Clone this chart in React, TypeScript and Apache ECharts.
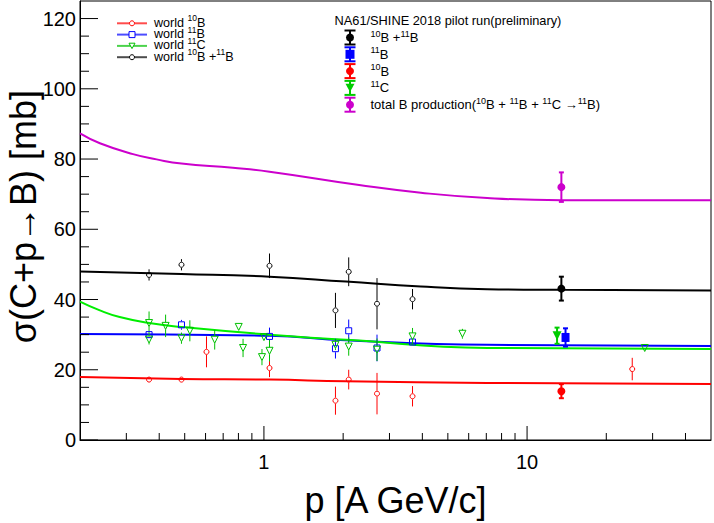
import React, { useEffect, useRef } from 'react';
import * as echarts from 'echarts';

const FONT = '"Liberation Sans", Arial, Helvetica, sans-serif';

// Fitted curves [p (A GeV/c), sigma (mb)]
const curveTotal = [[0.2, 87.3], [0.238, 84.5], [0.318, 81.4], [0.391, 79.9], [0.486, 78.7], [0.762, 77.5], [1.05, 76.4], [2.3, 72.6], [3.95, 70.4], [7.05, 68.9], [13.5, 68.3], [50, 68.3]];
const curveSum = [[0.2, 48.0], [0.486, 47.3], [1.05, 46.5], [2.05, 45.1], [3.95, 43.7], [7.05, 42.95], [13.5, 42.75], [50, 42.6]];
const curve11B = [[0.2, 30.2], [1.05, 29.7], [2.05, 28.4], [7.05, 27.1], [50, 26.8]];
const curve10B = [[0.2, 17.95], [0.486, 17.4], [1.05, 17.2], [2.05, 16.7], [7.05, 16.25], [50, 15.97]];
const curve11C = [[0.2, 39.4], [0.238, 36.9], [0.283, 35.0], [0.366, 33.3], [0.486, 32.2], [1.05, 30.0], [2.05, 28.55], [7.05, 26.2], [50, 25.9]];

// World data [p, sigma, error]
const world10B = [[0.366, 17.2, 0.5], [0.486, 17.2, 0.5], [0.605, 25.1, 4.4], [1.05, 20.5, 2.6], [1.87, 11.2, 4.0], [2.10, 17.2, 2.8], [2.69, 13.2, 5.9], [3.67, 12.45, 2.9], [25.1, 20.2, 3.2]];
const world11B = [[0.366, 30.0, 0.6], [0.486, 32.8, 1.4], [1.05, 29.5, 2.5], [1.87, 26.0, 2.8], [2.10, 31.1, 3.2], [2.69, 26.2, 3.8], [3.67, 27.9, 0.8]];
const world11C = [[0.366, 33.3, 3.3], [0.366, 28.6, 1.4], [0.423, 32.5, 3.2], [0.486, 29.0, 1.6], [0.523, 31.1, 3.0], [0.650, 28.55, 2.8], [0.802, 32.2, 0.8], [0.833, 26.2, 2.6], [0.983, 23.6, 2.3], [1.0, 29.3, 0.8], [1.05, 25.4, 3.0], [1.87, 27.1, 1.5], [2.10, 26.6, 2.6], [2.69, 25.7, 3.2], [3.67, 29.5, 2.4], [5.68, 30.25, 1.4], [28.0, 26.2, 0.6]];
const world10B11B = [[0.366, 47.0, 1.6], [0.486, 49.9, 1.6], [1.05, 49.6, 3.5], [1.87, 36.9, 5.0], [2.10, 47.9, 4.1], [2.69, 38.8, 7.3], [3.67, 40.1, 2.9]];

// NA61/SHINE 2018 pilot run [p, sigma, error]
const na61Sum = [[13.5, 43.1, 3.4]];
const na6111B = [[14.0, 29.2, 2.6]];
const na6110B = [[13.5, 13.9, 2.0]];
const na6111C = [[13.0, 29.7, 2.3]];
const na61Total = [[13.5, 72.0, 4.2]];

// Axis ticks
const X_MIN = 0.2;
const X_MAX = 50;
const Y_MIN = 0;
const Y_MAX = 125;
const xMajorTicks = [1, 10];
const xMinorTicks = [0.3, 0.4, 0.5, 0.6, 0.7, 0.8, 0.9, 2, 3, 4, 5, 6, 7, 8, 9, 20, 30, 40];
const yMajorTicks = [0, 20, 40, 60, 80, 100, 120];
const yMinorTicks = [5, 10, 15, 25, 30, 35, 45, 50, 55, 65, 70, 75, 85, 90, 95, 105, 110, 115];

const leftLegend = [
  { text: '{n|world }{s|10}{n|B}', color: '#ff0000', symbol: 'circle' },
  { text: '{n|world }{s|11}{n|B}', color: '#0000ff', symbol: 'square' },
  { text: '{n|world }{s|11}{n|C}', color: '#00c000', symbol: 'tri' },
  { text: '{n|world }{s|10}{n|B +}{s|11}{n|B}', color: '#000000', symbol: 'circle' },
];
const rightTitle = 'NA61/SHINE 2018 pilot run(preliminary)';
const rightLegend = [
  { text: '{s|10}{n|B +}{s|11}{n|B}', color: '#000000', symbol: 'circle' },
  { text: '{s|11}{n|B}', color: '#0000ff', symbol: 'square' },
  { text: '{s|10}{n|B}', color: '#ff0000', symbol: 'circle' },
  { text: '{s|11}{n|C}', color: '#00cc00', symbol: 'tri' },
  { text: '{n|total B production(}{s|10}{n|B + }{s|11}{n|B + }{s|11}{n|C →}{s|11}{n|B)}', color: '#cc00cc', symbol: 'circle' },
];

function errRender(color: string, lw: number, gap: number, cap: number) {
  return (params: any, api: any) => {
    const x = api.value(0);
    const y = api.value(1);
    const e = api.value(2);
    const c = api.coord([x, y]);
    const t = api.coord([x, y + e]);
    const b = api.coord([x, y - e]);
    const children: any[] = [];
    const st = { stroke: color, lineWidth: lw };
    if (c[1] - t[1] > gap) children.push({ type: 'line', shape: { x1: c[0], y1: t[1], x2: c[0], y2: c[1] - gap }, style: st });
    if (b[1] - c[1] > gap) children.push({ type: 'line', shape: { x1: c[0], y1: c[1] + gap, x2: c[0], y2: b[1] }, style: st });
    if (cap > 0) {
      children.push({ type: 'line', shape: { x1: c[0] - cap / 2, y1: t[1], x2: c[0] + cap / 2, y2: t[1] }, style: st });
      children.push({ type: 'line', shape: { x1: c[0] - cap / 2, y1: b[1], x2: c[0] + cap / 2, y2: b[1] }, style: st });
    }
    return { type: 'group', children };
  };
}

function tickSeries(data: number[][], dx: number, dy: number) {
  return {
    type: 'custom',
    coordinateSystem: 'cartesian2d',
    silent: true,
    z: 6,
    data,
    renderItem: (params: any, api: any) => {
      const p = api.coord([api.value(0), api.value(1)]);
      return { type: 'line', shape: { x1: p[0], y1: p[1], x2: p[0] + dx, y2: p[1] + dy }, style: { stroke: '#000', lineWidth: 1 } };
    },
  };
}

function lineSeries(data: number[][], color: string) {
  return {
    type: 'line',
    data,
    smooth: 0.5,
    showSymbol: false,
    symbol: 'none',
    lineStyle: { color, width: 2 },
    z: 2,
    silent: true,
  };
}

function errSeries(data: number[][], color: string, lw: number, gap: number, cap: number) {
  return {
    type: 'custom',
    coordinateSystem: 'cartesian2d',
    data,
    silent: true,
    z: 3,
    renderItem: errRender(color, lw, gap, cap),
  };
}

function markerSeries(data: number[][], color: string, symbol: string, size: any, filled: boolean, rotate = 0) {
  return {
    type: 'scatter',
    data: data.map((d) => [d[0], d[1]]),
    symbol,
    symbolSize: size,
    symbolRotate: rotate,
    silent: true,
    z: 4,
    itemStyle: filled
      ? { color, borderWidth: 0, opacity: 1 }
      : { color: 'rgba(255,255,255,0)', borderColor: color, borderWidth: 1, opacity: 1 },
  };
}

function legendMarker(kind: string, cx: number, cy: number, color: string, filled: boolean, size: number) {
  if (kind === 'circle') {
    return { type: 'circle', shape: { cx, cy, r: size / 2 }, style: filled ? { fill: color } : { fill: '#fff', stroke: color, lineWidth: 1 } };
  }
  if (kind === 'square') {
    return { type: 'rect', shape: { x: cx - size / 2, y: cy - size / 2, width: size, height: size }, style: filled ? { fill: color } : { fill: '#fff', stroke: color, lineWidth: 1 } };
  }
  const h = size * 0.9;
  return {
    type: 'polygon',
    shape: { points: [[cx - size / 2, cy - h / 2], [cx + size / 2, cy - h / 2], [cx, cy + h / 2]] },
    style: filled ? { fill: color } : { fill: '#fff', stroke: color, lineWidth: 1 },
  };
}

export default function App() {
  const ref = useRef<HTMLDivElement>(null);
  useEffect(() => {
    document.body.style.margin = '0';
    if (!ref.current) return;
    const chart = echarts.init(ref.current, null, { renderer: 'svg' });

    const graphics: any[] = [];
    // left legend
    leftLegend.forEach((it, i) => {
      const y = 23.3 + i * 11.3;
      graphics.push({ type: 'line', shape: { x1: 117, y1: y, x2: 147, y2: y }, style: { stroke: it.color, lineWidth: 2, opacity: 0.7 } });
      graphics.push(legendMarker(it.symbol, 132, y, it.color, false, it.symbol === 'circle' ? 5 : 6));
      graphics.push({
        type: 'text',
        x: 154,
        y: y - 0.5,
        style: {
          text: it.text,
          fill: '#000',
          align: 'left',
          verticalAlign: 'middle',
          textAlign: 'left',
          textVerticalAlign: 'middle',
          rich: {
            n: { fontSize: 12.6, fontFamily: FONT, lineHeight: 11, fill: '#000', color: '#000' },
            s: { fontSize: 8.5, fontFamily: FONT, lineHeight: 8.5, padding: [0, 0, 9, 0], fill: '#000', color: '#000' },
          },
        },
      });
    });
    // right legend
    graphics.push({
      type: 'text',
      x: 334.5,
      y: 20,
      style: { text: rightTitle, fontSize: 12.8, fontFamily: FONT, fill: '#000', align: 'left', verticalAlign: 'middle', textAlign: 'left', textVerticalAlign: 'middle' },
    });
    rightLegend.forEach((it, i) => {
      const y = 37.5 + i * 16.8;
      const st = { stroke: it.color, lineWidth: 2 };
      graphics.push({ type: 'line', shape: { x1: 350, y1: y - 7, x2: 350, y2: y + 7 }, style: st });
      graphics.push({ type: 'line', shape: { x1: 344.5, y1: y - 7, x2: 355.5, y2: y - 7 }, style: st });
      graphics.push({ type: 'line', shape: { x1: 344.5, y1: y + 7, x2: 355.5, y2: y + 7 }, style: st });
      graphics.push(legendMarker(it.symbol, 350, y, it.color, true, it.symbol === 'circle' ? 8 : 9));
      graphics.push({
        type: 'text',
        x: 370.5,
        y,
        style: {
          text: it.text,
          fill: '#000',
          align: 'left',
          verticalAlign: 'middle',
          textAlign: 'left',
          textVerticalAlign: 'middle',
          rich: {
            n: { fontSize: 13, fontFamily: FONT, lineHeight: 15, fill: '#000', color: '#000' },
            s: { fontSize: 9, fontFamily: FONT, lineHeight: 9, padding: [0, 0, 8, 0], fill: '#000', color: '#000' },
          },
        },
      });
    });
    // y title
    graphics.push({
      type: 'text',
      x: 23,
      y: 90,
      rotation: Math.PI / 2,
      style: { text: 'σ(C+p→B) [mb]', fontSize: 36, fontFamily: FONT, fill: '#000', align: 'right', verticalAlign: 'middle', textAlign: 'right', textVerticalAlign: 'middle' },
    });

    const option: any = {
      animation: false,
      backgroundColor: '#ffffff',
      grid: {
        left: 80,
        right: 3,
        top: 1,
        bottom: 83,
        show: true,
        borderColor: '#000',
        borderWidth: 1,
        backgroundColor: 'rgba(0,0,0,0)',
        containLabel: false,
        outerBoundsMode: 'none',
      },
      xAxis: {
        type: 'log',
        logBase: 10,
        min: X_MIN,
        max: X_MAX,
        axisLine: { show: true, onZero: false, lineStyle: { color: '#000', width: 1 } },
        axisTick: { show: false },
        minorTick: { show: false },
        splitLine: { show: false },
        minorSplitLine: { show: false },
        axisLabel: {
          color: '#000',
          fontSize: 20,
          fontFamily: FONT,
          margin: 12,
          showMinLabel: true,
          showMaxLabel: true,
          hideOverlap: false,
          formatter: (v: number) => (Math.abs(v - 1) < 1e-6 ? '1' : Math.abs(v - 10) < 1e-5 ? '10' : ''),
        },
        name: 'p [A GeV/c]',
        nameLocation: 'middle',
        nameGap: 42,
        nameTextStyle: { color: '#000', fontSize: 36, fontFamily: FONT },
      },
      yAxis: {
        type: 'value',
        min: Y_MIN,
        max: Y_MAX,
        interval: 20,
        axisLine: { show: true, onZero: false, lineStyle: { color: '#000', width: 1 } },
        axisTick: { show: false },
        minorTick: { show: false },
        splitLine: { show: false },
        axisLabel: {
          color: '#000',
          fontSize: 20,
          fontFamily: FONT,
          margin: 4,
          formatter: (v: number) => (Math.round(v) % 20 === 0 && v <= 120 ? String(Math.round(v)) : ''),
        },
      },
      graphic: graphics,
      series: [
        lineSeries(curveTotal, '#cc00cc'),
        lineSeries(curveSum, '#000000'),
        lineSeries(curve10B, '#ff0000'),
        lineSeries(curve11B, '#0000ff'),
        lineSeries(curve11C, '#00ee00'),

        errSeries(world10B, '#ff0000', 1, 3, 0),
        errSeries(world11B, '#0000ff', 1, 3.5, 0),
        errSeries(world11C, '#00c000', 1, 3.5, 0),
        errSeries(world10B11B, '#000000', 1, 3, 0),
        markerSeries(world10B, '#ff0000', 'circle', 5, false),
        markerSeries(world11B, '#0000ff', 'rect', 6, false),
        markerSeries(world11C, '#00c000', 'triangle', 7, false, 180),
        markerSeries(world10B11B, '#000000', 'circle', 5, false),

        errSeries(na61Sum, '#000000', 2, 0, 5),
        errSeries(na6111B, '#0000ff', 2, 0, 5),
        errSeries(na6110B, '#ff0000', 2, 0, 5),
        errSeries(na6111C, '#00cc00', 2, 0, 5),
        errSeries(na61Total, '#cc00cc', 2, 0, 5),
        markerSeries(na61Sum, '#000000', 'circle', 8, true),
        markerSeries(na6111B, '#0000ff', 'rect', [8, 9], true),
        markerSeries(na6110B, '#ff0000', 'circle', 8, true),
        markerSeries(na6111C, '#00cc00', 'triangle', 9, true, 180),
        markerSeries(na61Total, '#cc00cc', 'circle', 8, true),

        tickSeries(xMajorTicks.map((v) => [v, Y_MIN]), 0, -14),
        tickSeries(xMinorTicks.map((v) => [v, Y_MIN]), 0, -7),
        tickSeries(yMajorTicks.map((v) => [X_MIN, v]), 18, 0),
        tickSeries(yMinorTicks.map((v) => [X_MIN, v]), 9, 0),
      ],
    };
    chart.setOption(option);
    return () => chart.dispose();
  }, []);
  return <div ref={ref} style={{ width: 714, height: 523, position: 'absolute', left: 0, top: 0, background: '#fff' }} />;
}
